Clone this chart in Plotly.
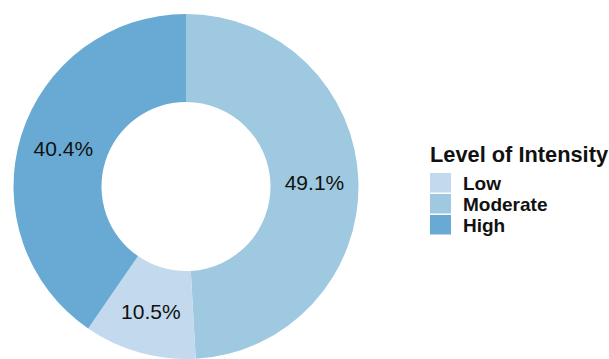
import plotly.graph_objects as go

# Share of sessions by level of intensity (percent)
slice_order = ["Moderate", "Low", "High"]
slice_values = [49.1, 10.5, 40.4]

# Legend entries, top to bottom
legend_labels = ["Low", "Moderate", "High"]
legend_title = "Level of Intensity"

palette = {"Low": "#c3d9ed", "Moderate": "#9ec9e0", "High": "#68aad3"}

W, H = 609, 359
FONT = "Liberation Sans, Arial, sans-serif"


def px(x):
    return x / W


def py(y):
    return 1 - y / H


fig = go.Figure(
    go.Pie(
        labels=slice_order,
        values=slice_values,
        hole=0.49,
        sort=False,
        direction="clockwise",
        rotation=0,
        marker=dict(colors=[palette[c] for c in slice_order], line=dict(width=0)),
        texttemplate="%{value:.1f}%",
        textposition="inside",
        insidetextorientation="horizontal",
        textfont=dict(family=FONT, size=21, color="#111111"),
        domain=dict(x=[px(13.5), px(358.5)], y=[0, py(14)]),
        showlegend=False,
        hoverinfo="label+value",
    )
)

# Legend drawn as stacked swatches with bold labels
shapes = []
annotations = [
    dict(
        x=px(428), y=py(155), xref="paper", yref="paper",
        xanchor="left", yanchor="middle", showarrow=False,
        text="<b>%s</b>" % legend_title,
        font=dict(family=FONT, size=21.8, color="#111111"),
    )
]
top = 173
step = 21
for i, name in enumerate(legend_labels):
    y0 = top + i * step
    shapes.append(
        dict(
            type="rect", xref="paper", yref="paper",
            x0=px(430), x1=px(451), y0=py(y0), y1=py(y0 + step - 1.5),
            fillcolor=palette[name], line=dict(width=0),
        )
    )
    annotations.append(
        dict(
            x=px(461), y=py(y0 + (step - 1.5) / 2 + 0.5), xref="paper", yref="paper",
            xanchor="left", yanchor="middle", showarrow=False,
            text="<b>%s</b>" % name,
            font=dict(family=FONT, size=19, color="#111111"),
        )
    )

fig.update_layout(
    width=W,
    height=H,
    margin=dict(l=0, r=0, t=0, b=0),
    paper_bgcolor="white",
    plot_bgcolor="white",
    uniformtext=dict(minsize=21, mode="show"),
    shapes=shapes,
    annotations=annotations,
)

fig.write_html("out.html")
